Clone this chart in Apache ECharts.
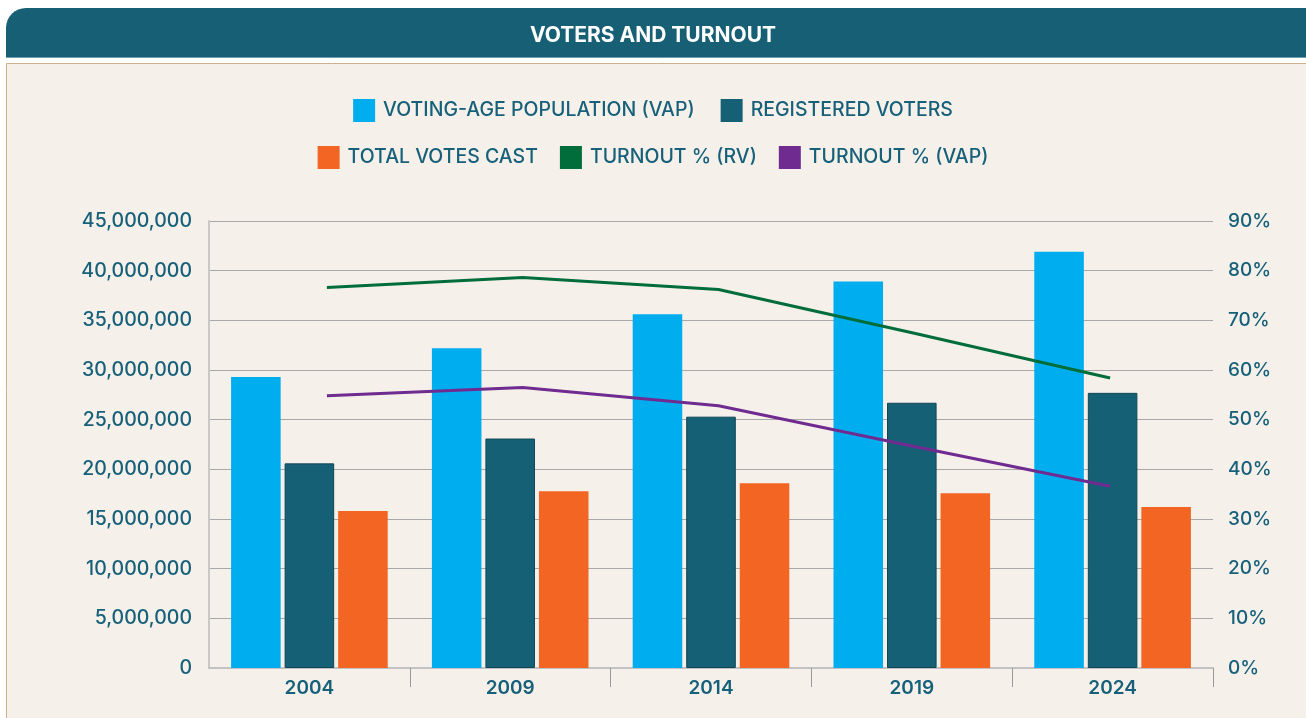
<!DOCTYPE html>
<html>
<head>
<meta charset="utf-8">
<script src="https://cdn.jsdelivr.net/npm/echarts@6/dist/echarts.min.js"></script>
<style>
  html, body { margin: 0; padding: 0; background: #ffffff; }
  #chart { width: 1306px; height: 718px; }
</style>
</head>
<body>
<div id="chart"></div>
<script>
// data
var years = ['2004', '2009', '2014', '2019', '2024'];
var vap = [29300000, 32200000, 35600000, 38900000, 41900000];
var registered = [20600000, 23100000, 25300000, 26700000, 27700000];
var votesCast = [15800000, 17800000, 18600000, 17600000, 16200000];
var turnoutRV = [76.6, 78.6, 76.2, 67.4, 58.4];
var turnoutVAP = [54.8, 56.5, 52.8, 44.6, 36.6];

var teal = '#17607a';
var font = 'Inter';

var chart = echarts.init(document.getElementById('chart'));

var option = {
  backgroundColor: '#ffffff',
  animation: false,
  graphic: [
    { type: 'rect', z: -10, shape: { x: 6.5, y: 63.5, width: 1310, height: 670 },
      style: { fill: '#f5f0ea', stroke: '#c9b28d', lineWidth: 1 } },
    { type: 'rect', shape: { x: 6, y: 8, width: 1310, height: 49, r: [20, 0, 0, 0] },
      style: { fill: '#175f74' } },
    { type: 'rect', shape: { x: 6, y: 57, width: 1310, height: 1 },
      style: { fill: '#6f9fae' } },
    { type: 'text', left: 'center', top: 25,
      style: { text: 'VOTERS AND TURNOUT', fill: '#ffffff', font: 'bold 21px ' + font } }
  ],
  legend: [
    {
      top: 94, left: 'center', icon: 'rect', itemWidth: 22, itemHeight: 23, itemGap: 26,
      itemStyle: { borderWidth: 0 },
      data: ['VOTING-AGE POPULATION (VAP)', 'REGISTERED VOTERS'],
      textStyle: { color: teal, fontFamily: font, fontSize: 19.5, fontWeight: 500, padding: [0, 0, 0, 3] }
    },
    {
      top: 141, left: 'center', icon: 'rect', itemWidth: 22, itemHeight: 23, itemGap: 22,
      itemStyle: { borderWidth: 0 },
      data: ['TOTAL VOTES CAST', 'TURNOUT % (RV)', 'TURNOUT % (VAP)'],
      textStyle: { color: teal, fontFamily: font, fontSize: 19.5, fontWeight: 500, padding: [0, 0, 0, 3] }
    }
  ],
  grid: [
    { left: 209, right: 93, top: 221, bottom: 50 },
    { left: 229, right: 98, top: 221, bottom: 50 }
  ],
  xAxis: [
    {
      type: 'category', gridIndex: 0, data: years,
      axisLine: { lineStyle: { color: '#c2c2c2', width: 2 } },
      axisTick: { show: true, length: 19, lineStyle: { color: '#999999' },
        interval: function (idx) { return idx !== 0; } },
      axisLabel: { color: teal, fontFamily: font, fontSize: 19, fontWeight: 600, margin: 11 }
    },
    { type: 'category', gridIndex: 1, data: years, show: false }
  ],
  yAxis: [
    {
      type: 'value', gridIndex: 0, min: 0, max: 45000000, interval: 5000000,
      axisLine: { show: true, lineStyle: { color: '#c8c8c8', width: 2 } },
      axisTick: { show: false },
      splitLine: { lineStyle: { color: '#a8a8a8', width: 1 } },
      axisLabel: {
        color: teal, fontFamily: font, fontSize: 19.5, fontWeight: 500, margin: 17,
        formatter: function (v) { return v.toLocaleString('en-US'); }
      }
    },
    {
      type: 'value', gridIndex: 0, position: 'right', min: 0, max: 90, interval: 10,
      axisLine: { show: false }, axisTick: { show: false }, splitLine: { show: false },
      axisLabel: { color: teal, fontFamily: font, fontSize: 19, fontWeight: 500, margin: 15,
        formatter: '{value}%' }
    },
    { type: 'value', gridIndex: 1, min: 0, max: 90, interval: 10, show: false,
      splitLine: { show: false } }
  ],
  series: [
    { name: 'VOTING-AGE POPULATION (VAP)', type: 'bar', data: vap,
      barGap: '8%', barCategoryGap: '22%', itemStyle: { color: '#00aeef' } },
    { name: 'REGISTERED VOTERS', type: 'bar', data: registered,
      itemStyle: { color: '#166076', borderColor: '#0f4656', borderWidth: 1 } },
    { name: 'TOTAL VOTES CAST', type: 'bar', data: votesCast,
      itemStyle: { color: '#f26522' } },
    { name: 'TURNOUT % (RV)', type: 'line', xAxisIndex: 1, yAxisIndex: 2, data: turnoutRV,
      symbol: 'none', lineStyle: { color: '#006d3a', width: 3 }, itemStyle: { color: '#006d3a' } },
    { name: 'TURNOUT % (VAP)', type: 'line', xAxisIndex: 1, yAxisIndex: 2, data: turnoutVAP,
      symbol: 'none', lineStyle: { color: '#702b91', width: 3 }, itemStyle: { color: '#702b91' } }
  ]
};

chart.setOption(option);
</script>
</body>
</html>
